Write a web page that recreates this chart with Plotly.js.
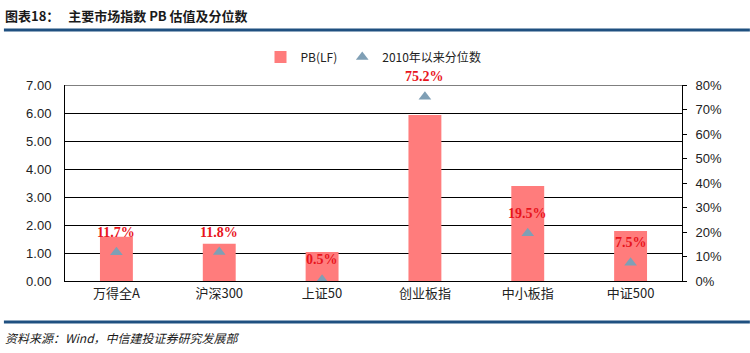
<!DOCTYPE html>
<html>
<head>
<meta charset="utf-8">
<script src="https://cdn.plot.ly/plotly-3.0.1.min.js"></script>
<style>html,body{margin:0;padding:0;background:#fff;}#chart{width:750px;height:353px;}</style>
</head>
<body>
<div id="chart"></div>
<script>
const categories = ['万得全A', '沪深300', '上证50', '创业板指', '中小板指', '中证500'];
const pbValues = [1.58, 1.33, 1.04, 5.93, 3.39, 1.79];
const percentiles = [0.117, 0.118, 0.005, 0.752, 0.195, 0.075];
const percentileLabels = ['11.7%', '11.8%', '0.5%', '75.2%', '19.5%', '7.5%'];

const cjk = '"Noto Sans CJK SC", "Liberation Serif", serif';
const axisFont = {family: 'Liberation Sans, Arial, sans-serif', size: 13, color: '#222'};

const traces = [
  {
    type: 'bar', x: categories, y: pbValues, name: 'PB(LF)',
    marker: {color: '#ff7c7c'}, width: 0.32, yaxis: 'y'
  },
  {
    type: 'scatter', mode: 'markers', x: categories, y: percentiles, name: '2010年以来分位数',
    marker: {symbol: 'triangle-up', size: 11, color: '#7f9fb5'}, yaxis: 'y2'
  }
];

const annotations = categories.map((c, i) => ({
  x: c, y: percentiles[i], xref: 'x', yref: 'y2', yshift: 20,
  text: '<b>' + percentileLabels[i] + '</b>', showarrow: false,
  font: {family: '"Liberation Serif", "Times New Roman", serif', size: 14, color: '#e8141c'}
}));

annotations.push({
  xref: 'paper', yref: 'paper', x: -0.1, y: 1.357, xanchor: 'left', yanchor: 'middle',
  text: '<b>图表18：   主要市场指数 PB 估值及分位数</b>', showarrow: false,
  font: {family: cjk, size: 13, color: '#1a1a1a'}
});
annotations.push({
  xref: 'paper', yref: 'paper', x: -0.1, y: -0.286, xanchor: 'left', yanchor: 'middle',
  text: '<i>资料来源：Wind，中信建投证券研究发展部</i>', showarrow: false,
  font: {family: cjk, size: 12, color: '#1a1a1a'}
});

const layout = {
  width: 750, height: 353,
  margin: {l: 65, r: 68, t: 85, b: 72},
  paper_bgcolor: '#fff', plot_bgcolor: '#fff',
  showlegend: true,
  legend: {orientation: 'h', x: 0.5, xanchor: 'center', y: 1.143, yanchor: 'middle',
    font: {family: cjk, size: 12, color: '#222'}, itemwidth: 30, tracegroupgap: 0},
  xaxis: {
    showline: true, linecolor: '#000', linewidth: 1, ticks: '',
    tickfont: {family: cjk, size: 13, color: '#222'}, fixedrange: true
  },
  yaxis: {
    range: [0, 7], dtick: 1, tickformat: '.2f', showgrid: true, gridcolor: '#000', gridwidth: 1,
    showline: true, linecolor: '#000', linewidth: 1, ticks: '', zeroline: false,
    tickfont: axisFont, ticklabelstandoff: 10
  },
  yaxis2: {
    overlaying: 'y', side: 'right', range: [0, 0.8], dtick: 0.1, tickformat: '.0%',
    showgrid: false, showline: true, linecolor: '#000', linewidth: 1,
    ticks: 'outside', ticklen: 4, tickcolor: '#000', zeroline: false, tickfont: axisFont,
    ticklabelstandoff: 6
  },
  annotations: annotations,
  shapes: [
    {type: 'line', xref: 'paper', yref: 'paper', x0: -0.099, x1: 1.11, y0: 1.28, y1: 1.28,
      line: {color: '#1f5080', width: 3}},
    {type: 'line', xref: 'paper', yref: 'paper', x0: -0.099, x1: 1.11, y0: -0.209, y1: -0.209,
      line: {color: '#1f5080', width: 3}},
    {type: 'line', xref: 'paper', yref: 'y', x0: 0, x1: 1, y0: 7, y1: 7,
      line: {color: '#000', width: 1}}
  ]
};

Plotly.newPlot('chart', traces, layout, {displayModeBar: false, staticPlot: true});
</script>
</body>
</html>
